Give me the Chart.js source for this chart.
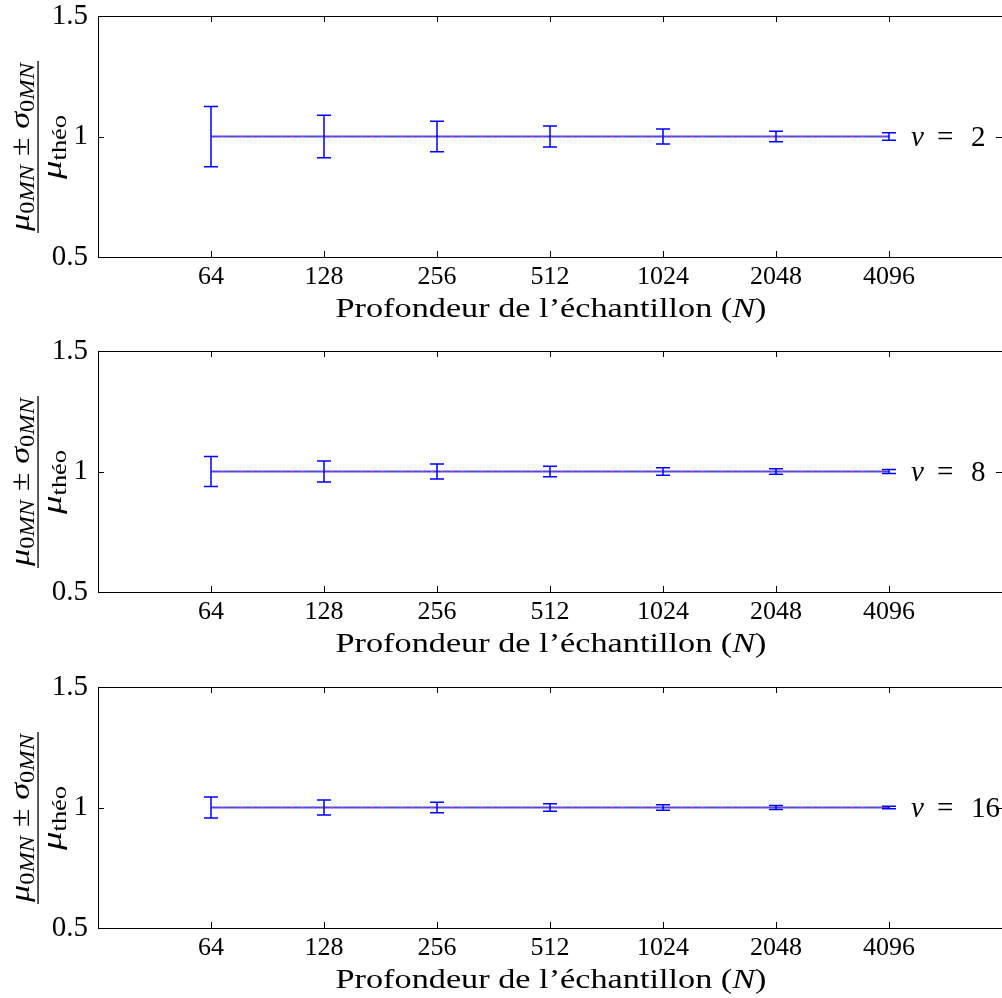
<!DOCTYPE html>
<html>
<head>
<meta charset="utf-8">
<script src="https://cdn.jsdelivr.net/npm/chart.js@4.4.0/dist/chart.umd.min.js"></script>
<style>
  html, body { margin: 0; padding: 0; background: #fff; overflow: hidden; }
  .panel { position: absolute; left: 0; width: 1002px; height: 336px; }
</style>
</head>
<body>
<div class="panel" style="top:0px"><canvas id="c1" width="1002" height="336"></canvas></div>
<div class="panel" style="top:335px"><canvas id="c2" width="1002" height="336"></canvas></div>
<div class="panel" style="top:671px"><canvas id="c3" width="1002" height="336"></canvas></div>
<script>
// sample depths N and axis ticks
const sampleSizes = [64, 128, 256, 512, 1024, 2048, 4096];
const xTicks = [64, 128, 256, 512, 1024, 2048, 4096];
const yTicks = [0.5, 1, 1.5];

// normalised mean (mu_0MN / mu_theo) for each nu
const meanNu2  = [1.0, 1.0, 1.0, 1.0, 1.0, 1.0, 1.0];
const meanNu8  = [1.0, 1.0, 1.0, 1.0, 1.0, 1.0, 1.0];
const meanNu16 = [1.0, 1.0, 1.0, 1.0, 1.0, 1.0, 1.0];

// normalised std dev (sigma_0MN / mu_theo)
const errNu2  = [0.125, 0.088, 0.063, 0.044, 0.031, 0.022, 0.016];
const errNu8  = [0.062, 0.044, 0.031, 0.022, 0.016, 0.011, 0.008];
const errNu16 = [0.044, 0.031, 0.022, 0.016, 0.011, 0.008, 0.0055];

// theoretical ratio
const theoRatio = [1, 1, 1, 1, 1, 1, 1];

const SERIF = "'Liberation Serif', 'DejaVu Serif', serif";
const BLUE = '#0000ff';

// draws a run of [text, font, dy] pieces starting at x
function drawRun(ctx, parts, x, y) {
  let cx = x;
  parts.forEach(p => {
    ctx.font = p[1];
    ctx.fillText(p[0], cx, y + (p[2] || 0));
    cx += ctx.measureText(p[0]).width;
  });
  return cx;
}
function runWidth(ctx, parts) {
  let w = 0;
  parts.forEach(p => { ctx.font = p[1]; w += ctx.measureText(p[0]).width; });
  return w;
}
// run centred at (cx, y) and stretched horizontally to a given width
function drawFitted(ctx, parts, cx, y, width) {
  const w = runWidth(ctx, parts);
  ctx.save();
  ctx.translate(cx, y);
  ctx.scale(width / w, 1);
  drawRun(ctx, parts, -w / 2, 0);
  ctx.restore();
}

const panelPlugin = {
  id: 'panelDeco',
  afterDatasetsDraw(chart, args, opts) {
    const ctx = chart.ctx;
    const xs = chart.scales.x, ys = chart.scales.y;
    // error bars
    ctx.save();
    ctx.strokeStyle = BLUE;
    ctx.lineWidth = 1.5;
    opts.mean.forEach((m, i) => {
      const px = xs.getPixelForValue(sampleSizes[i]);
      const yt = ys.getPixelForValue(m + opts.err[i]);
      const yb = ys.getPixelForValue(m - opts.err[i]);
      ctx.beginPath();
      ctx.moveTo(px, yt); ctx.lineTo(px, yb);
      ctx.moveTo(px - 7, yt); ctx.lineTo(px + 7, yt);
      ctx.moveTo(px - 7, yb); ctx.lineTo(px + 7, yb);
      ctx.stroke();
    });
    ctx.restore();
  },
  afterDraw(chart, args, opts) {
    const ctx = chart.ctx;
    const a = chart.chartArea;
    const xs = chart.scales.x, ys = chart.scales.y;
    ctx.save();

    // nu label: nu, '=', value placed like TeX math spacing
    const lx = xs.getPixelForValue(4096) + 22;
    const ly = ys.getPixelForValue(1);
    ctx.fillStyle = '#000';
    ctx.textBaseline = 'alphabetic';
    ctx.font = 'italic 29px ' + SERIF;
    ctx.fillText('ν', lx, ly + 9);
    ctx.font = '29px ' + SERIF;
    ctx.fillText('=', lx + 26, ly + 9);
    ctx.fillText(String(opts.nu), lx + 60, ly + 9);

    // frame (right side falls just past the canvas edge)
    ctx.strokeStyle = '#000';
    ctx.lineWidth = 1;
    ctx.strokeRect(Math.round(a.left) + 0.5, Math.round(a.top) + 0.5,
                   Math.round(a.right - a.left), Math.round(a.bottom - a.top));
    // inward ticks
    ctx.beginPath();
    xTicks.forEach(v => {
      const px = Math.round(xs.getPixelForValue(v)) + 0.5;
      ctx.moveTo(px, a.bottom); ctx.lineTo(px, a.bottom - 6);
      ctx.moveTo(px, a.top); ctx.lineTo(px, a.top + 6);
    });
    yTicks.forEach(v => {
      const py = Math.round(ys.getPixelForValue(v)) + 0.5;
      ctx.moveTo(a.left, py); ctx.lineTo(a.left + 6, py);
      ctx.moveTo(a.right, py); ctx.lineTo(a.right - 6, py);
    });
    ctx.stroke();

    // x axis title
    const tParts = [['Profondeur de l’échantillon (', '28px ' + SERIF],
                    ['N', 'italic 28px ' + SERIF], [')', '28px ' + SERIF]];
    drawFitted(ctx, tParts, (a.left + a.right) / 2 + 1, a.bottom + 60, 431);

    // y axis title (fraction, rotated)
    ctx.translate(38, a.top + 131);
    ctx.rotate(-Math.PI / 2);
    const it = 'italic 28px ' + SERIF, sub = 'italic 20px ' + SERIF, subU = '20px ' + SERIF;
    const num = [['μ', it], ['0', subU, 5], ['MN', sub, 5], [' ± ', '28px ' + SERIF],
                 ['σ', it], ['0', subU, 5], ['MN', sub, 5]];
    const den = [['μ', it], ['théo', subU, 5]];
    drawFitted(ctx, num, 0, -9, 168);
    drawFitted(ctx, den, 0, 23, 64);
    ctx.fillRect(-86, -0.6, 172, 1.3);
    ctx.restore();
  }
};

function makePanel(id, nu, mean, err) {
  new Chart(document.getElementById(id), {
    type: 'line',
    data: {
      datasets: [
        {
          label: 'théorique',
          data: sampleSizes.map((n, i) => ({ x: n, y: theoRatio[i] })),
          borderColor: '#ff3030',
          borderWidth: 1,
          borderDash: [2, 8],
          pointRadius: 0
        },
        {
          label: 'ν = ' + nu,
          data: sampleSizes.map((n, i) => ({ x: n, y: mean[i] })),
          borderColor: 'rgba(40,40,255,0.85)',
          borderWidth: 2,
          pointRadius: 0
        }
      ]
    },
    options: {
      responsive: false,
      animation: false,
      layout: { padding: { top: 16, right: 0, left: 0, bottom: 0 } },
      plugins: {
        legend: { display: false },
        tooltip: { enabled: false },
        panelDeco: { nu: nu, mean: mean, err: err }
      },
      scales: {
        x: {
          type: 'logarithmic',
          min: 32, max: 8192,
          afterBuildTicks: s => { s.ticks = xTicks.map(v => ({ value: v })); },
          afterFit: s => { s.height = 79; s.paddingLeft = 0; s.paddingRight = 0; },
          grid: { display: false, drawTicks: false },
          border: { display: false },
          ticks: {
            autoSkip: false, maxRotation: 0, padding: 5,
            color: '#000',
            font: { family: SERIF, size: 26 },
            callback: v => String(v)
          }
        },
        y: {
          min: 0.5, max: 1.5,
          afterBuildTicks: s => { s.ticks = yTicks.map(v => ({ value: v })); },
          afterFit: s => { s.width = 98; s.paddingTop = 0; s.paddingBottom = 0; },
          grid: { display: false, drawTicks: false },
          border: { display: false },
          ticks: {
            padding: 10,
            color: '#000',
            font: { family: SERIF, size: 29 },
            callback: v => String(v)
          }
        }
      }
    },
    plugins: [panelPlugin]
  });
}

makePanel('c1', 2, meanNu2, errNu2);
makePanel('c2', 8, meanNu8, errNu8);
makePanel('c3', 16, meanNu16, errNu16);
</script>
</body>
</html>
